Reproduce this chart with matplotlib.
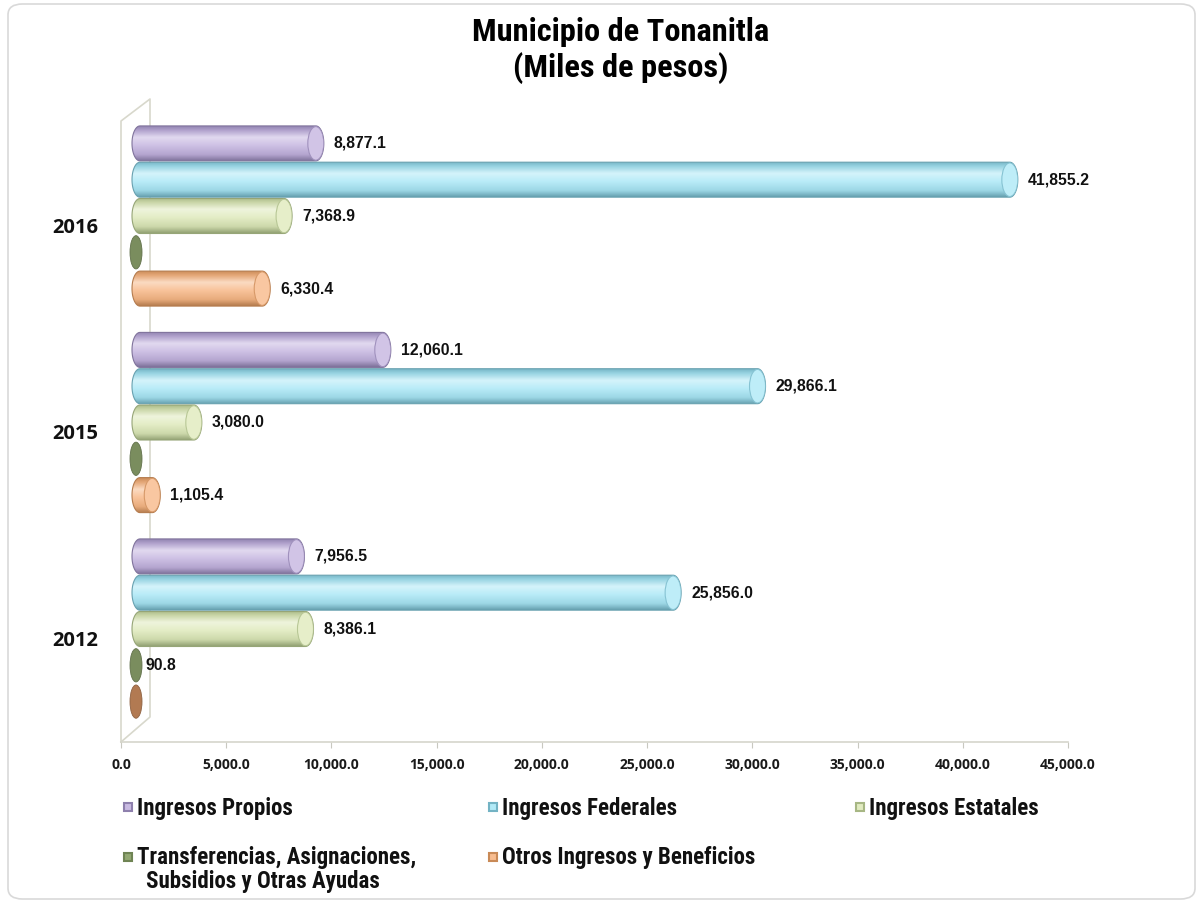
import numpy as np
import matplotlib
matplotlib.use("Agg")
import matplotlib.pyplot as plt
from matplotlib import font_manager
from matplotlib.patches import PathPatch, Ellipse, FancyBboxPatch, Rectangle
from matplotlib.path import Path
from matplotlib.lines import Line2D
from matplotlib.colors import to_rgb

# ---------------- data ----------------
years = ["2016", "2015", "2012"]
series = ["Ingresos Propios", "Ingresos Federales", "Ingresos Estatales",
          "Transferencias, Asignaciones,\nSubsidios y Otras Ayudas",
          "Otros Ingresos y Beneficios"]
propios = [8877.1, 12060.1, 7956.5]
federales = [41855.2, 29866.1, 25856.0]
estatales = [7368.9, 3080.0, 8386.1]
transferencias = [0.0, 0.0, 90.8]
otros = [6330.4, 1105.4, 0.0]
values = [propios, federales, estatales, transferencias, otros]
xticks = np.arange(0, 45001, 5000)

base_colors = ["#c9bae2", "#b2eaf7", "#e1ebc0", "#93a873", "#f8bd90"]
dark_colors = ["#8e80ad", "#73b3c4", "#a7b784", "#6f8454", "#c98a57"]
zero_colors = ["#8e80ad", "#73b3c4", "#a7b784", "#7a8d5e", "#b27a52"]

# ---------------- fonts ----------------
avail = {f.name for f in font_manager.fontManager.ttflist}
narrow = "Liberation Sans"
narrow_scale = 0.85
for cand in ["Liberation Sans Narrow", "Roboto Condensed", "Open Sans Condensed", "DejaVu Sans Condensed"]:
    if cand in avail:
        narrow = cand
        narrow_scale = 1.0 if cand != "DejaVu Sans Condensed" else 0.85
        break
numfont = "Open Sans"

W, H = 1201, 903
fig = plt.figure(figsize=(W / 100, H / 100), dpi=100)

def fx(px):
    return px / W

def fy(py):
    return 1 - py / H

# border
fig.add_artist(FancyBboxPatch((fx(8), fy(900)), fx(1195) - fx(8), fy(5) - fy(900),
                              boxstyle="round,pad=0,rounding_size=0.012",
                              transform=fig.transFigure, fc="white", ec="#d9d9d9", lw=1.2,
                              zorder=-10))

# title
fig.text(fx(621), fy(32), "Municipio de Tonanitla", ha="center", va="center",
         fontsize=23.3 * narrow_scale, fontweight="bold", family=narrow)
fig.text(fx(621), fy(68), "(Miles de pesos)", ha="center", va="center",
         fontsize=23.3 * narrow_scale, fontweight="bold", family=narrow)

# axes geometry
ax_bottom_px, ax_top_px = 743, 100
unit_px = 206.5
ylim = (-(ax_bottom_px - 630) / unit_px, -(ax_bottom_px - 630) / unit_px + (ax_bottom_px - ax_top_px) / unit_px)
axw_px = 947

# wall lines
wall = [(121, 743), (121, 122), (150, 100), (150, 718), (121, 743)]
fig.add_artist(Line2D([fx(p[0]) for p in wall], [fy(p[1]) for p in wall],
                      transform=fig.transFigure, color="#d8d8cc", lw=1.2, zorder=-5))

# tick axis (front edge)
axt = fig.add_axes([fx(121), fy(ax_bottom_px), axw_px / W, (ax_bottom_px - ax_top_px) / H])
axt.set_zorder(1)
axt.set_xlim(0, 45000)
axt.set_ylim(*ylim)
axt.patch.set_alpha(0)
for s in ["top", "right", "left"]:
    axt.spines[s].set_visible(False)
axt.spines["bottom"].set_color("#d6d6cc")
axt.spines["bottom"].set_linewidth(1.2)
axt.set_yticks([])
axt.set_xticks(xticks)
axt.set_xticklabels([f"{v:,.1f}" for v in xticks], fontsize=10, fontweight="bold",
                    family=numfont, color="#1a1a1a")
axt.tick_params(axis="x", length=4, color="#c8c8c0", pad=7)

# bar axis (back plane, shifted)
ax = fig.add_axes([fx(129), fy(ax_bottom_px), axw_px / W, (ax_bottom_px - ax_top_px) / H])
ax.set_zorder(2)
ax.set_xlim(0, 45000)
ax.set_ylim(*ylim)
ax.axis("off")

upp = 45000 / axw_px  # data units per pixel (x)
ypp = 1 / unit_px      # data units per pixel (y)
bar_h = 35 * ypp
step = 36.3 * ypp
group_y = [2, 1, 0]

def mix(c1, c2, t):
    a, b = np.array(to_rgb(c1)), np.array(to_rgb(c2))
    return a * (1 - t) + b * t

def gradient(base, dark, n=64):
    stops = [(0.0, mix(dark, base, 0.1)), (0.12, mix(dark, base, 0.6)), (0.32, mix(base, "white", 0.45)),
             (0.55, mix(base, "white", 0.1)), (0.82, mix(base, dark, 0.35)), (1.0, mix(dark, "black", 0.1))]
    pos = np.array([s[0] for s in stops])
    cols = np.array([s[1] for s in stops])
    t = np.linspace(0, 1, n)
    arr = np.stack([np.interp(t, pos, cols[:, k]) for k in range(3)], axis=1)
    return arr[:, None, :]

hw = 8 * upp  # cap half width
for si in range(5):
    grad = gradient(base_colors[si], dark_colors[si])
    for gi, yc in enumerate(group_y):
        v = values[si][gi]
        y = yc + (2 - si) * step
        y0, y1 = y - bar_h / 2, y + bar_h / 2
        if v / upp < 10:
            e = Ellipse((7 * upp, y), 12 * upp, bar_h * 0.95, fc=zero_colors[si],
                        ec=mix(zero_colors[si], "black", 0.2), lw=0.6, zorder=3)
            ax.add_patch(e)
            right = 13 * upp
        else:
            xl = 3 * upp
            th = np.linspace(np.pi / 2, 3 * np.pi / 2, 40)
            left_pts = [(xl + hw + hw * np.cos(t), y + bar_h / 2 * np.sin(t)) for t in th]
            th2 = np.linspace(-np.pi / 2, np.pi / 2, 40)
            right_pts = [(v + hw * np.cos(t), y + bar_h / 2 * np.sin(t)) for t in th2]
            pts = left_pts + right_pts + [left_pts[0]]
            path = Path(pts)
            patch = PathPatch(path, fc="none", ec=mix(dark_colors[si], "black", 0.1), lw=0.8, zorder=4)
            ax.add_patch(patch)
            im = ax.imshow(grad, extent=[0, v + hw, y0, y1], origin="upper", aspect="auto",
                           zorder=3, interpolation="bilinear")
            im.set_clip_path(patch)
            cap = Ellipse((v, y), 2 * hw, bar_h * 0.96, fc=mix(base_colors[si], "white", 0.15),
                          ec=mix(dark_colors[si], base_colors[si], 0.3), lw=0.8, zorder=5)
            ax.add_patch(cap)
            cap.set_clip_path(patch)
            right = v + hw
        if v > 0:
            ax.text(right + (4 if v / upp < 10 else 10) * upp, y + 1 * ypp, f"{v:,.1f}",
                    ha="left", va="center", fontsize=11.3, fontweight="bold",
                    family="Liberation Sans", color="#111111", zorder=6)

ax.set_xlim(0, 45000)
ax.set_ylim(*ylim)

# category labels
for yc, lab in zip(group_y, years):
    ax.text(-31 * upp, yc - 11 * ypp, lab, ha="right", va="center", fontsize=14.5,
            fontweight="bold", family=numfont, color="#111111", clip_on=False)

# legend (manual)
leg_pos = [(128, 808), (493, 808), (860, 808), (128, 858), (493, 858)]
for si, (px, py) in enumerate(leg_pos):
    fig.add_artist(Rectangle((fx(px - 4), fy(py + 4)), 8 / W, 8 / H, transform=fig.transFigure,
                             fc=base_colors[si], ec=dark_colors[si], lw=1.5))
    lines = series[si].split("\n")
    for li, ln in enumerate(lines):
        fig.text(fx(px + 9 + (9 if li > 0 else 0)), fy(py + li * 24), ln, ha="left", va="center",
                 fontsize=16.5 * narrow_scale, fontweight="bold", family=narrow, color="#111111")

fig.savefig("out.png", dpi=100)
